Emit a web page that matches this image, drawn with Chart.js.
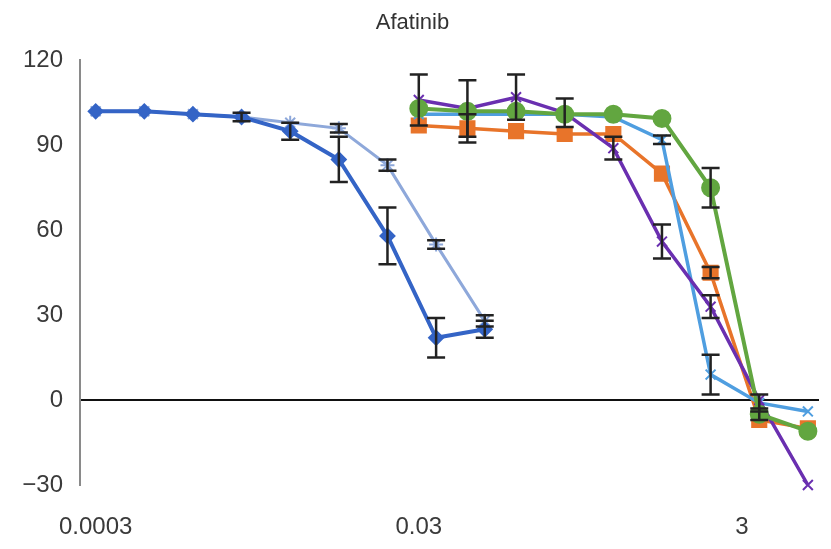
<!DOCTYPE html>
<html>
<head>
<meta charset="utf-8">
<script src="https://cdn.jsdelivr.net/npm/chart.js@4.4.1/dist/chart.umd.min.js"></script>
<style>
  html, body { margin: 0; padding: 0; background: #fff; }
  #wrap { width: 831px; height: 549px; }
</style>
</head>
<body>
<div id="wrap"><canvas id="myChart" width="831" height="549"></canvas></div>
<script>
// doses (uM), 2-fold dilutions
var lowDoses = [0.0003, 0.0006, 0.0012, 0.0024, 0.0048, 0.0096, 0.0192, 0.0384, 0.0768];
var highDoses = [0.03, 0.06, 0.12, 0.24, 0.48, 0.96, 1.92, 3.84, 7.68];

// viability (%) and error bars (0 = too small to see)
var darkBlue = [102, 102, 101, 100, 95, 85, 58, 22, 25];
var darkBlueErr = [0, 0, 0, 1.5, 3, 8, 10, 7, 3];
var paleBlue = [102, 102, 101, 100, 98, 96, 83, 55, 28];
var paleBlueErr = [0, 0, 0, 0, 0, 1.5, 2, 1.5, 2];
var orange = [97, 96, 95, 94, 94, 80, 45, -7, -10];
var orangeErr = [0, 5, 0, 0, 0, 0, 2, 0, 0];
var skyBlue = [101, 101, 101, 101, 100, 92, 9, -1, -4];
var skyBlueErr = [0, 0, 0, 0, 0, 1.5, 7, 3, 0];
var purple = [106, 103, 107, 101.5, 89, 56, 33, 0, -30];
var purpleErr = [9, 10, 8, 5, 4, 6, 4, 0, 0];
var green = [103, 102, 102, 101, 101, 99.5, 75, -5, -11];
var greenErr = [0, 0, 0, 0, 0, 0, 7, 2, 0];

var xTickValues = [0.0003, 0.03, 3];
var yTickValues = [-30, 0, 30, 60, 90, 120];

function points(xs, ys) {
    return xs.map(function(x, i) { return {x: x, y: ys[i]}; });
}

function series(label, xs, ys, errs, color, style, radius, width) {
    return {
        label: label,
        data: points(xs, ys),
        errors: errs,
        borderColor: color,
        backgroundColor: color,
        pointBorderColor: color,
        pointBackgroundColor: color,
        pointStyle: style,
        pointRadius: radius,
        pointBorderWidth: 2,
        borderWidth: width,
        tension: 0,
        clip: 12
    };
}

// black error bars with caps
var errorBars = {
    id: 'errorBars',
    afterDatasetsDraw: function(chart) {
        var ctx = chart.ctx, xs = chart.scales.x, ys = chart.scales.y;
        ctx.save();
        ctx.strokeStyle = '#222';
        ctx.lineWidth = 2.5;
        chart.data.datasets.forEach(function(ds) {
            if (!ds.errors) return;
            ds.data.forEach(function(p, i) {
                var e = ds.errors[i];
                if (!e) return;
                var px = xs.getPixelForValue(p.x);
                var top = ys.getPixelForValue(p.y + e);
                var bot = ys.getPixelForValue(p.y - e);
                ctx.beginPath();
                ctx.moveTo(px, top); ctx.lineTo(px, bot);
                ctx.moveTo(px - 9, top); ctx.lineTo(px + 9, top);
                ctx.moveTo(px - 9, bot); ctx.lineTo(px + 9, bot);
                ctx.stroke();
            });
        });
        ctx.restore();
    }
};

var ctx = document.getElementById('myChart').getContext('2d');
var myChart = new Chart(ctx, {
    type: 'line',
    data: {
        datasets: [
            series('Green', highDoses, green, greenErr, '#62a640', 'circle', 8.5, 4),
            series('Purple', highDoses, purple, purpleErr, '#6a2fb0', 'crossRot', 7, 3.5),
            series('Sky blue', highDoses, skyBlue, skyBlueErr, '#4f9ee0', 'crossRot', 7, 3.5),
            series('Orange', highDoses, orange, orangeErr, '#e8742a', 'rect', 10, 3.5),
            series('Dark blue', lowDoses, darkBlue, darkBlueErr, '#3464c6', 'rectRot', 7, 4),
            series('Pale blue', lowDoses, paleBlue, paleBlueErr, '#8ea8da', 'star', 7, 3)
        ]
    },
    options: {
        responsive: false,
        animation: false,
        layout: { padding: { left: 0, right: 6, top: 0, bottom: 0 } },
        plugins: {
            legend: { display: false },
            tooltip: { enabled: false },
            title: {
                display: true,
                text: 'Afatinib',
                color: '#333',
                font: { family: 'Liberation Sans, Arial, sans-serif', size: 22, weight: 'normal' },
                padding: { top: 10, bottom: 24 }
            }
        },
        scales: {
            x: {
                type: 'logarithmic',
                min: 0.00024,
                max: 9,
                afterBuildTicks: function(scale) {
                    scale.ticks = xTickValues.map(function(v) { return {value: v}; });
                },
                afterFit: function(scale) { scale.height = 64; },
                ticks: {
                    autoSkip: false,
                    maxRotation: 0,
                    padding: 20,
                    color: '#3a3a3a',
                    font: { family: 'Liberation Sans, Arial, sans-serif', size: 24 },
                    callback: function(v) { return String(v); }
                },
                grid: { display: false },
                border: { display: false }
            },
            y: {
                min: -30,
                max: 120,
                afterBuildTicks: function(scale) {
                    scale.ticks = yTickValues.map(function(v) { return {value: v}; });
                },
                afterFit: function(scale) { scale.width = 80; },
                ticks: {
                    padding: 17,
                    color: '#3a3a3a',
                    font: { family: 'Liberation Sans, Arial, sans-serif', size: 24 },
                    callback: function(v) { return v < 0 ? '\u2212' + Math.abs(v) : String(v); }
                },
                grid: {
                    drawTicks: false,
                    lineWidth: 2,
                    color: function(c) { return c.tick && c.tick.value === 0 ? '#111' : 'rgba(0,0,0,0)'; }
                },
                border: { display: true, color: '#8a8a8a', width: 2 }
            }
        }
    },
    plugins: [errorBars]
});
</script>
</body>
</html>
